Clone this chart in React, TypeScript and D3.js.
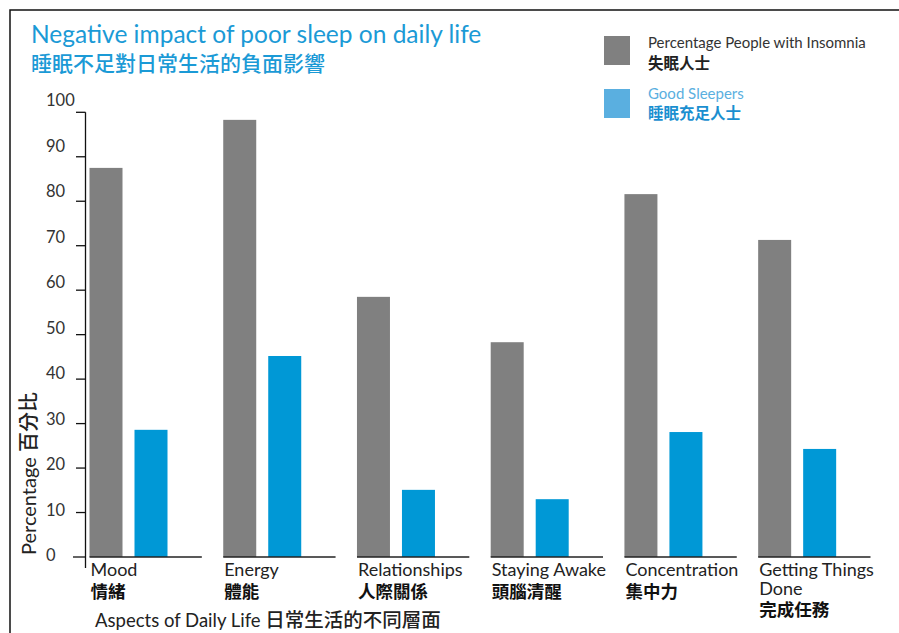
import React from "react";
import * as d3 from "d3";

const categories = ["Mood", "Energy", "Relationships", "Staying Awake", "Concentration", "Getting Things Done"];
const categoryLinesEn = [["Mood"], ["Energy"], ["Relationships"], ["Staying Awake"], ["Concentration"], ["Getting Things", "Done"]];
const categoriesZh = ["情緒", "體能", "人際關係", "頭腦清醒", "集中力", "完成任務"];
const insomnia = [87.5, 98.3, 58.5, 48.3, 81.6, 71.3];
const goodSleepers = [28.6, 45.2, 15.1, 13.0, 28.1, 24.3];
const seriesKeys = ["insomnia", "good"];
const yTicks = [0, 10, 20, 30, 40, 50, 60, 70, 80, 90, 100];

const W = 899;
const H = 633;
const GRAY = "#808080";
const BLUE = "#0098d6";
const LEGEND_BLUE = "#5aafe0";
const TITLE_BLUE = "#1b9ad6";
const FONT = "Lato, 'Noto Sans CJK TC', sans-serif";
const CJK = "'Noto Sans CJK TC', sans-serif";

export default function App() {
  const y = d3.scaleLinear().domain([0, 100]).range([557, 112.3]);
  const yLabel = d3.scaleLinear().domain([0, 100]).range([561, 106]);
  const x = d3.scaleBand<string>().domain(categories).range([89.5, 870.5]).paddingInner(0.16).paddingOuter(0);
  const xi = d3.scaleBand<string>().domain(seriesKeys).range([0, 78]).paddingInner(12 / 45).paddingOuter(0);
  const axisX = 85.5;

  return (
    <svg width={W} height={H} style={{ position: "absolute", left: 0, top: 0, background: "#fff" }}>
      {/* frame */}
      <path d={`M10,${H} L10,10 L${W},10`} fill="none" stroke="#111" strokeWidth={1.5} />

      {/* titles */}
      <text x={31} y={43} fill={TITLE_BLUE} fontFamily={FONT} fontSize={24.5}>
        Negative impact of poor sleep on daily life
      </text>
      <text x={31} y={70.5} fill={TITLE_BLUE} fontFamily={CJK} fontSize={21} fontWeight={500}>
        睡眠不足對日常生活的負面影響
      </text>

      {/* legend */}
      <rect x={604} y={36} width={26} height={29} fill={GRAY} />
      <text x={648} y={48} fill="#333" fontFamily={FONT} fontSize={15}>Percentage People with Insomnia</text>
      <text x={648} y={69} fill="#222" fontFamily={CJK} fontSize={15.5} fontWeight={700}>失眠人士</text>
      <rect x={604} y={89} width={26} height={29} fill={LEGEND_BLUE} />
      <text x={648} y={99} fill={LEGEND_BLUE} fontFamily={FONT} fontSize={15}>Good Sleepers</text>
      <text x={648} y={119} fill="#1a8fd0" fontFamily={CJK} fontSize={15.5} fontWeight={700}>睡眠充足人士</text>

      {/* y axis */}
      <line x1={axisX} x2={axisX} y1={y(100)} y2={568} stroke="#111" strokeWidth={1.3} />
      {yTicks.map((t) => (
        <g key={t}>
          <line x1={t === 0 ? 73 : 76} x2={axisX} y1={y(t)} y2={y(t)} stroke="#111" strokeWidth={1.3} />
          <text x={46} y={yLabel(t)} fill="#333" fontFamily={FONT} fontSize={16.5}>{t}</text>
        </g>
      ))}
      <text transform={`translate(36,555) rotate(-90)`} fill="#222" fontFamily={FONT} fontSize={20}>
        Percentage <tspan fontFamily={CJK} fontWeight={500}>百分比</tspan>
      </text>

      {/* bars */}
      {categories.map((c, i) => {
        const gx = x(c)!;
        return (
          <g key={c}>
            <rect x={gx + xi("insomnia")!} y={y(insomnia[i])} width={xi.bandwidth()} height={y(0) - y(insomnia[i])} fill={GRAY} />
            <rect x={gx + xi("good")!} y={y(goodSleepers[i])} width={xi.bandwidth()} height={y(0) - y(goodSleepers[i])} fill={BLUE} />
            <line x1={gx} x2={gx + x.bandwidth()} y1={y(0)} y2={y(0)} stroke="#222" strokeWidth={1.3} />
            {categoryLinesEn[i].map((ln, k) => (
              <text key={k} x={gx + 1} y={576 + k * 18.5} fill="#222" fontFamily={FONT} fontSize={18}>{ln}</text>
            ))}
            <text x={gx + 1} y={597.5 + (categoryLinesEn[i].length - 1) * 18.5} fill="#111" fontFamily={CJK} fontSize={17.5} fontWeight={700}>
              {categoriesZh[i]}
            </text>
          </g>
        );
      })}

      {/* x axis title */}
      <text x={95} y={627} fill="#222" fontFamily={FONT} fontSize={18.5}>
        Aspects of Daily Life <tspan fontFamily={CJK} fontWeight={500} fontSize={19.5}>日常生活的不同層面</tspan>
      </text>
    </svg>
  );
}
